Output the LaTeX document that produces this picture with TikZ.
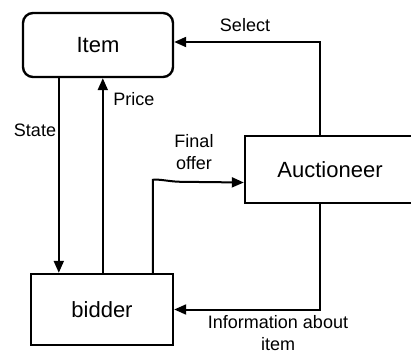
\documentclass[tikz,border=0pt]{standalone}
\usepackage{fontspec}
\setmainfont{Liberation Sans}
\usetikzlibrary{arrows.meta, positioning, calc}

\begin{document}
\begin{tikzpicture}[
    x=0.5pt, y=-0.5pt,
    every node/.style={font=\fontsize{11}{13}\selectfont},
    block/.style={rectangle, draw, line width=1.2pt, inner sep=0pt},
    lbl/.style={font=\fontsize{9}{11}\selectfont, align=center, inner sep=1pt},
    arr/.style={-{Triangle[length=6pt, width=5pt]}, line width=1pt}
]
    \useasboundingbox (0,0) rectangle (411,352);

    % the three blocks
    \node[block, rounded corners=5pt, minimum width=75pt, minimum height=32pt] (item) at (98,45) {Item};
    \node[block, minimum width=85pt, minimum height=33.5pt] (auct) at (330,169.5) {Auctioneer};
    \node[block, minimum width=71pt, minimum height=35.5pt] (bidder) at (102,309.5) {bidder};

    % item <-> bidder
    \draw[arr] ($(item.south west)+(37,0)$) coordinate (s) -- (s |- bidder.north);
    \draw[arr] ($(bidder.north west)+(73,0)$) coordinate (p) -- (p |- item.south);

    % bidder -> auctioneer
    \draw[arr] ($(bidder.north west)+(123,0)$) -- ++(0,-93)
        .. controls +(6,-1) and +(-10,0) .. ++(28,2) -- ($(auct.west)+(0,13)$);

    % auctioneer -> item, auctioneer -> bidder
    \draw[arr] ($(auct.north west)+(76,0)$) |- ($(item.east)+(0,-3)$);
    \draw[arr] ($(auct.south west)+(76,0)$) |- (bidder.east);

    % labels
    \node[lbl] (lstate) at (35,130) {State};
    \node[lbl, anchor=west] (lprice) at (111,99) {Price};
    \node[lbl] (lfinal) at (194,152) {Final\\offer};
    \node[lbl] (lselect) at (245,25) {Select};
    \node[lbl] (linfo) at (278,333) {Information about\\item};
\end{tikzpicture}
\end{document}
